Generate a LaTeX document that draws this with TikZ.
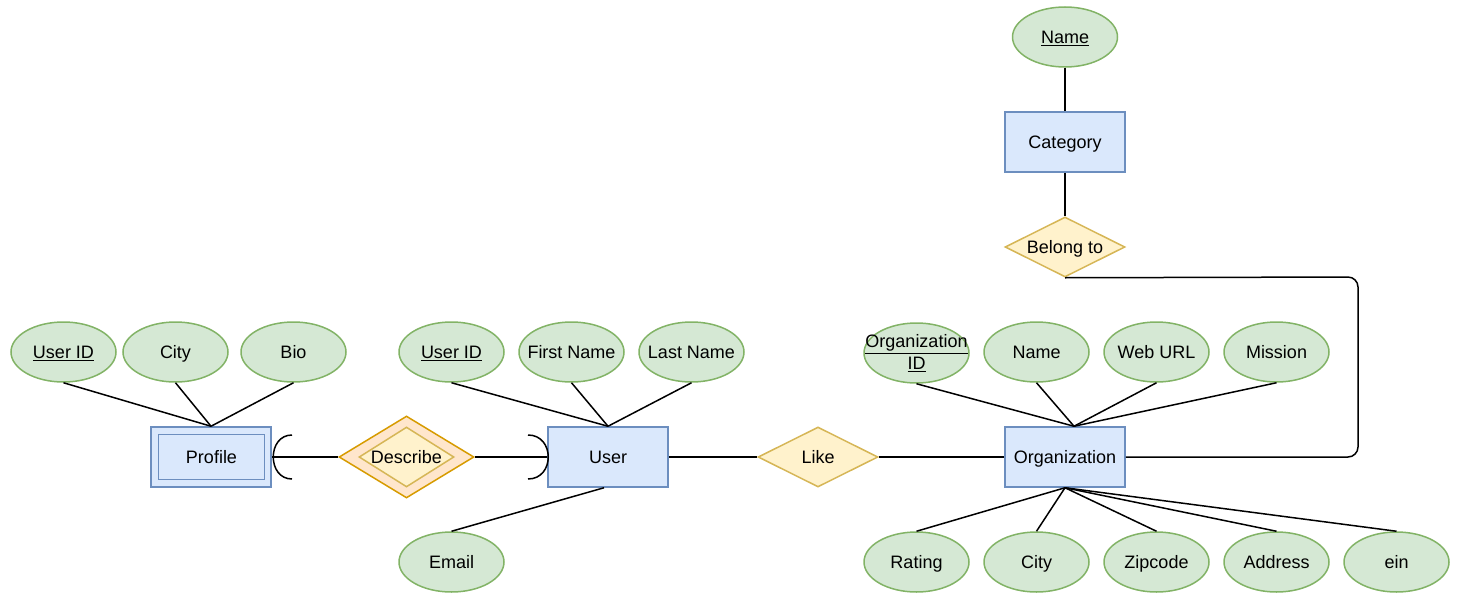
\documentclass[tikz,border=0pt]{standalone}
\usepackage{fontspec}
\setmainfont{Liberation Sans}
\usetikzlibrary{
    calc,
    shapes.geometric
}
\definecolor{entfill}{HTML}{DAE8FC}
\definecolor{entdraw}{HTML}{6C8EBF}
\definecolor{attrfill}{HTML}{D5E8D4}
\definecolor{attrdraw}{HTML}{82B366}
\definecolor{relfill}{HTML}{FFF2CC}
\definecolor{reldraw}{HTML}{D6B656}
\definecolor{wrelfill}{HTML}{FFE6CC}
\definecolor{wreldraw}{HTML}{D79B00}
\tikzset{
    oneline/.style={text height=16.3pt, text depth=3.8pt},
    entity/.style={draw=entdraw, fill=entfill, line width=1.5pt,
        minimum width=120pt, minimum height=60pt, inner sep=0pt, oneline},
    weakin/.style={draw=entdraw, line width=1.5pt,
        minimum width=106pt, minimum height=45pt, inner sep=0pt, oneline},
    attrshape/.style={ellipse, draw=attrdraw, fill=attrfill, line width=1.5pt,
        minimum width=105pt, minimum height=60pt,
        inner xsep=-14pt, inner ysep=0pt, align=center},
    attr/.style={attrshape, oneline},
    rel/.style={diamond, aspect=2, draw=reldraw, fill=relfill, line width=1.5pt,
        minimum width=120pt, minimum height=60pt, inner sep=0pt, oneline},
    weakrel/.style={diamond, aspect=1.65, draw=wreldraw, fill=wrelfill, line width=1.5pt,
        minimum width=135pt, minimum height=82pt, inner sep=0pt},
    weakrelin/.style={diamond, aspect=1.6, draw=reldraw, fill=relfill, line width=1.5pt,
        minimum width=95pt, minimum height=60pt, inner sep=0pt,
        text height=13pt, text depth=0.5pt},
    link/.style={line width=1.5pt, black}
}

\begin{document}
\begin{tikzpicture}[x=1pt, y=-1pt, font=\fontsize{18}{21.6}\selectfont]
    \useasboundingbox (0,0) rectangle (1464,602);
    % entities
    \node[entity] (profile) at (211,457) {};
    \node[weakin] (profilein) at (211.5,457) {Profile};
    \node[entity] (user) at (608,457) {User};
    \node[entity] (org) at (1065,457) {Organization};
    \node[entity] (cat) at (1065,142) {Category};
    % relationships
    \node[rel] (like) at (818,457) {Like};
    \node[rel] (belong) at (1065,247) {Belong to};
    \node[weakrel] (descout) at (406.5,457) {};
    \node[weakrelin] (desc) at (406.5,457) {Describe};
    % attributes
    \node[attr] (catname) at (1065,37) {\underline{Name}};
    \node[attr] (puid) at (63.5,352) {\underline{User ID}};
    \node[attr] (pcity) at (175.5,352) {City};
    \node[attr] (pbio) at (293.5,352) {Bio};
    \node[attr] (uid) at (451.5,352) {\underline{User ID}};
    \node[attr] (ufirst) at (571.5,352) {First Name};
    \node[attr] (ulast) at (691.5,352) {Last Name};
    \node[attr] (uemail) at (451.5,562) {Email};
    \node[attrshape] (oid) at (916.5,353) {\underline{Organization}\\\underline{ID}};
    \node[attr] (oname) at (1036.5,352) {Name};
    \node[attr] (oweb) at (1156.5,352) {Web URL};
    \node[attr] (omission) at (1276.5,352) {Mission};
    \node[attr] (orating) at (916.5,562) {Rating};
    \node[attr] (ocity) at (1036.5,562) {City};
    \node[attr] (ozip) at (1156.5,562) {Zipcode};
    \node[attr] (oaddr) at (1276.5,562) {Address};
    \node[attr] (oein) at (1396.5,562) {ein};
    % attribute links
    \foreach \a in {puid,pcity,pbio}
        \draw[link] (\a.south) -- (profile.north);
    \foreach \a in {uid,ufirst,ulast}
        \draw[link] (\a.south) -- (user.north);
    \draw[link] (uemail.north) -- ([xshift=-4pt]user.south);
    \foreach \a in {oid,oname,oweb,omission}
        \draw[link] (\a.south) -- ([xshift=9pt]org.north);
    \foreach \a in {orating,ocity,ozip,oaddr,oein}
        \draw[link] (\a.north) -- (org.south);
    \draw[link] (catname) -- (cat);
    % relationship links
    \draw[link] (cat) -- (belong);
    \coordinate (bend) at (1358,277);
    \draw[link, rounded corners=10pt] (belong.south) -- (bend) |- (org.east);
    \draw[link] (user.east) -- (like.west);
    \draw[link] (like.east) -- (org.west);
    \draw[link] (profile.east) -- (descout.west);
    \draw[link] (descout.east) -- (user.west);
    % cardinality marks
    \coordinate (pa) at (292,435);
    \coordinate (pb) at (292,479);
    \coordinate (ua) at (528,435);
    \coordinate (ub) at (528,479);
    \draw[link] (pa) .. controls +(-25,0) and +(-25,0) .. (pb);
    \draw[link] (ua) .. controls +(27,0) and +(27,0) .. (ub);
\end{tikzpicture}
\end{document}
